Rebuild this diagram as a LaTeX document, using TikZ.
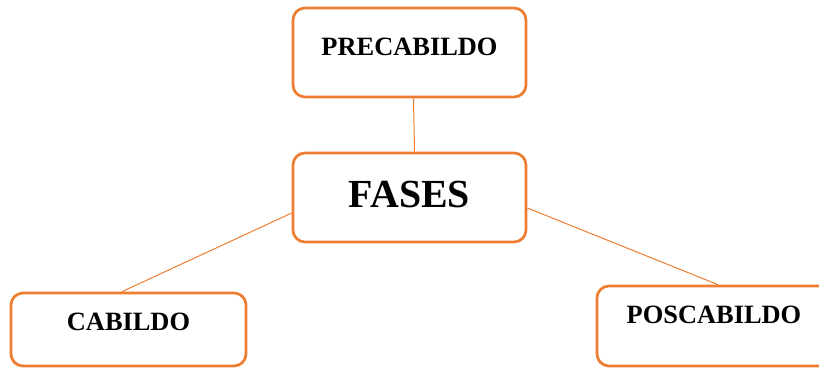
\documentclass[tikz,border=0pt]{standalone}
\usepackage{fontspec}
\setmainfont{Liberation Serif}
\definecolor{boxorange}{HTML}{ED7D31}
\tikzset{
  phasebox/.style={draw=boxorange, line width=2.7bp, rounded corners=12bp, fill=white,
    inner sep=0pt, minimum width=233bp, font=\bfseries\fontsize{26.5}{30}\selectfont},
  link/.style={draw=boxorange, line width=1bp}
}
\begin{document}
\begin{tikzpicture}[x=1bp, y=-1bp]
    \useasboundingbox (0,0) rectangle (819,367);

    % Define the boxes
    \node[phasebox, minimum height=89bp, text height=18bp, text depth=13bp] (pre) at (409.5,52.5) {PRECABILDO};
    \node[phasebox, minimum height=89bp, text height=27bp, text depth=8bp,
      font=\bfseries\fontsize{40}{44}\selectfont] (fases) at (409.5,197.5) {FASES};
    \node[phasebox, minimum width=235bp, minimum height=73bp, text height=18bp, text depth=17bp] (cab) at (128.5,329.5) {CABILDO};
    \node[phasebox, minimum width=234bp, minimum height=80bp, text height=18bp, text depth=24bp] (pos) at (714,326) {POSCABILDO};

    % Draw the links
    \draw[link] ([xshift=4bp]pre.south) -- ([xshift=5bp]fases.north);
    \draw[link] ([yshift=-15.5bp]fases.west) -- ([xshift=-6.5bp]cab.north);
    \draw[link] ([yshift=-10.5bp]fases.east) -- ([xshift=4bp]pos.north);

\end{tikzpicture}
\end{document}
